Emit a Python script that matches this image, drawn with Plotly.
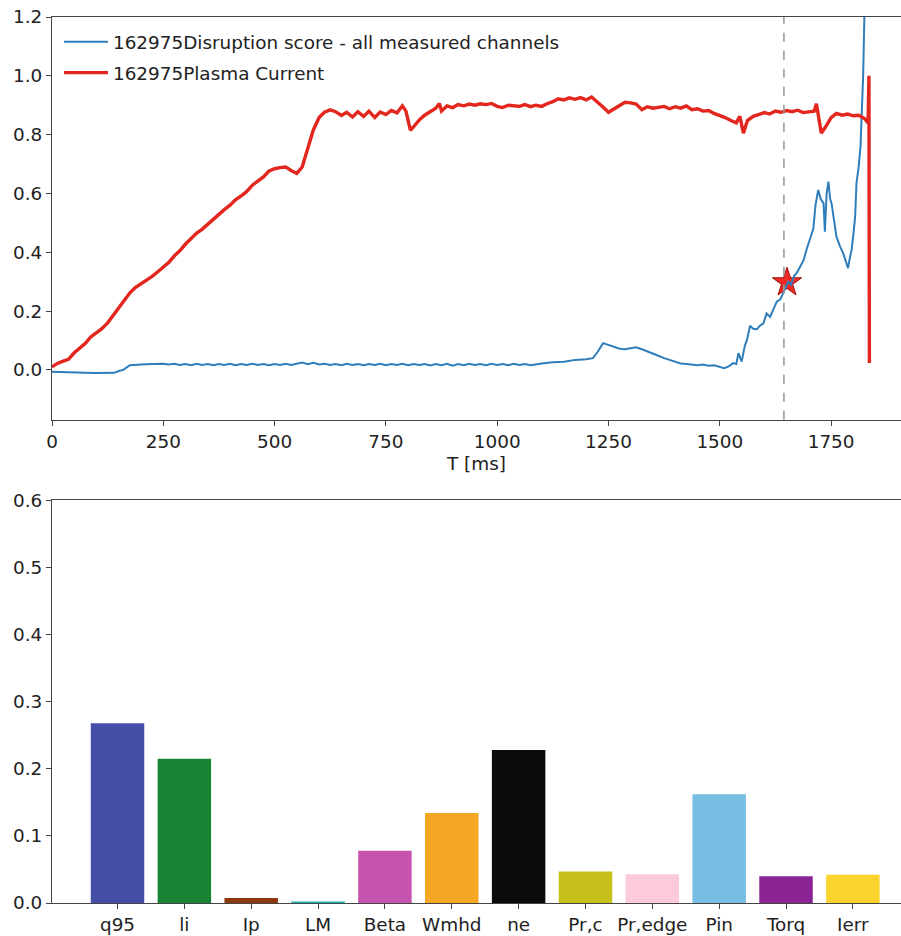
import plotly.graph_objects as go
from plotly.subplots import make_subplots

# ---------------- data ----------------
ip_t = [0, 12, 25, 37, 50, 62, 75, 87, 100, 112, 125, 137, 150, 162, 175, 187, 200, 212, 225, 237,
        250, 262, 275, 287, 300, 312, 325, 337, 350, 362, 375, 387, 400, 412, 425, 437, 450, 462, 475, 487,
        500, 512, 525, 537, 550, 562, 575, 587, 600, 612, 625, 637, 650, 662, 675, 687, 700, 712, 725, 737,
        750, 762, 775, 787, 795, 805, 812, 825, 837, 850, 862, 870, 875, 887, 900, 912, 925, 937, 950, 962,
        975, 987, 1000, 1012, 1025, 1037, 1050, 1062, 1075, 1087, 1100, 1112, 1125, 1137, 1150, 1162, 1175,
        1187, 1200, 1212, 1225, 1237, 1250, 1262, 1275, 1287, 1300, 1312, 1325, 1337, 1350, 1362, 1375,
        1387, 1400, 1412, 1425, 1437, 1450, 1462, 1475, 1487, 1500, 1512, 1525, 1537, 1545, 1553, 1562,
        1575, 1587, 1600, 1612, 1625, 1637, 1650, 1662, 1675, 1687, 1700, 1712, 1717, 1722, 1728, 1737,
        1750, 1762, 1775, 1787, 1800, 1812, 1825, 1833, 1835, 1836]
ip_v = [0.010, 0.022, 0.030, 0.036, 0.058, 0.072, 0.090, 0.112, 0.125, 0.140, 0.160, 0.185, 0.210, 0.238,
        0.262, 0.280, 0.292, 0.305, 0.318, 0.333, 0.350, 0.365, 0.388, 0.405, 0.428, 0.445, 0.465, 0.478,
        0.496, 0.513, 0.530, 0.545, 0.560, 0.578, 0.592, 0.606, 0.628, 0.640, 0.656, 0.676, 0.684, 0.688,
        0.690, 0.678, 0.668, 0.690, 0.760, 0.816, 0.858, 0.876, 0.884, 0.878, 0.865, 0.876, 0.860, 0.878,
        0.862, 0.880, 0.858, 0.877, 0.868, 0.882, 0.874, 0.898, 0.880, 0.815, 0.826, 0.850, 0.866, 0.878,
        0.890, 0.906, 0.880, 0.898, 0.892, 0.902, 0.898, 0.904, 0.900, 0.905, 0.902, 0.906, 0.896, 0.892,
        0.900, 0.898, 0.896, 0.902, 0.895, 0.900, 0.896, 0.905, 0.912, 0.922, 0.918, 0.925, 0.920, 0.926,
        0.918, 0.928, 0.912, 0.895, 0.876, 0.886, 0.898, 0.910, 0.908, 0.904, 0.885, 0.895, 0.890, 0.894,
        0.896, 0.888, 0.895, 0.890, 0.898, 0.885, 0.888, 0.880, 0.882, 0.872, 0.865, 0.858, 0.848, 0.840,
        0.862, 0.805, 0.848, 0.862, 0.868, 0.875, 0.870, 0.880, 0.876, 0.882, 0.878, 0.883, 0.875, 0.878,
        0.880, 0.905, 0.850, 0.805, 0.825, 0.858, 0.872, 0.866, 0.870, 0.864, 0.866, 0.855, 0.840, 1.000,
        0.023]

ds_t = [0, 25, 50, 75, 100, 125, 140, 150, 160, 175, 187, 200, 225, 250,
        262, 275, 287, 300, 312, 325, 337, 350, 362, 375, 387, 400, 412, 425, 437, 450, 462, 475, 487,
        500, 512, 525, 537, 550, 562, 575, 587, 600, 612, 625, 637, 650, 662, 675, 687, 700, 712, 725,
        737, 750, 762, 775, 787, 800, 812, 825, 837, 850, 862, 875, 887, 900, 912, 925, 937, 950, 962,
        975, 987, 1000, 1012, 1025, 1037, 1050, 1062, 1075, 1087,
        1100, 1125, 1150, 1175, 1200, 1215, 1225, 1238, 1250, 1262, 1275, 1287, 1300, 1312, 1325, 1337,
        1350, 1362, 1375, 1387, 1400, 1412, 1425, 1437, 1450, 1462, 1475, 1487, 1500, 1510, 1520, 1530,
        1537, 1542, 1549, 1556, 1561, 1568, 1575, 1583, 1590, 1598, 1605, 1613, 1620, 1628, 1636, 1643,
        1648, 1654, 1660, 1667, 1673, 1680, 1688, 1695, 1702, 1710, 1715, 1721, 1727, 1733, 1736, 1740,
        1744, 1748, 1751, 1756, 1762, 1770, 1777, 1783, 1788, 1792, 1796, 1800, 1804, 1807, 1812, 1816,
        1819, 1822, 1826]
ds_v = [-0.006, -0.008, -0.010, -0.010, -0.011, -0.011, -0.010, -0.004, 0.000, 0.016, 0.016, 0.018,
        0.020, 0.021,
        0.018, 0.021, 0.017, 0.020, 0.016, 0.021, 0.017, 0.020, 0.016, 0.020, 0.017, 0.021, 0.016, 0.020,
        0.017, 0.021, 0.017, 0.020, 0.016, 0.020, 0.017, 0.021, 0.017, 0.020, 0.025, 0.019, 0.024, 0.018,
        0.021, 0.017, 0.020, 0.016, 0.021, 0.017, 0.020, 0.016, 0.020, 0.017, 0.021, 0.016, 0.020, 0.017,
        0.021, 0.016, 0.020, 0.017, 0.020, 0.015, 0.020, 0.016, 0.021, 0.014, 0.020, 0.016, 0.021, 0.017,
        0.020, 0.016, 0.021, 0.017, 0.020, 0.016, 0.021, 0.017, 0.020, 0.016, 0.020,
        0.022, 0.026, 0.028, 0.034, 0.036, 0.040, 0.060, 0.091, 0.084, 0.078, 0.072, 0.070, 0.074, 0.077,
        0.070, 0.062, 0.055, 0.048, 0.040, 0.034, 0.028, 0.022, 0.020, 0.018, 0.016, 0.018, 0.014, 0.016,
        0.010, 0.006, 0.012, 0.023, 0.020, 0.057, 0.028, 0.080, 0.102, 0.150, 0.140, 0.138, 0.150, 0.158,
        0.192, 0.180, 0.205, 0.232, 0.240, 0.262, 0.280, 0.300, 0.290, 0.320, 0.330, 0.350, 0.372, 0.410,
        0.440, 0.480, 0.560, 0.612, 0.580, 0.567, 0.470, 0.600, 0.640, 0.580, 0.567, 0.520, 0.453, 0.420,
        0.397, 0.370, 0.346, 0.380, 0.408, 0.460, 0.521, 0.635, 0.691, 0.760, 0.860, 1.000, 1.300]

alarm_time = [1644]
alarm_star_t = [1651]
alarm_star_v = [0.297]

shot = "162975"
series_names = [shot + "Disruption score - all measured channels", shot + "Plasma Current"]

feature_names = ["q95", "li", "Ip", "LM", "Beta", "Wmhd", "ne", "Pr,c", "Pr,edge", "Pin", "Torq", "Ierr"]
feature_values = [0.268, 0.215, 0.0075, 0.002, 0.078, 0.134, 0.228, 0.047, 0.043, 0.162, 0.040, 0.042]
feature_colors = ["#464ea8", "#188433", "#8b3a10", "#1fb3b0", "#c653ad", "#f5a623", "#0b0b0b",
                  "#c7c01a", "#fdc9dc", "#76bee3", "#8a2495", "#fbd32d"]

top_yticks = [0.0, 0.2, 0.4, 0.6, 0.8, 1.0, 1.2]
top_xticks = [0, 250, 500, 750, 1000, 1250, 1500, 1750]
bot_yticks = [0.0, 0.1, 0.2, 0.3, 0.4, 0.5, 0.6]

# ---------------- figure ----------------
FONT = "DejaVu Sans"
FS = 18.4
AX = "#444444"
TXT = "#222222"

fig = make_subplots(rows=2, cols=1, vertical_spacing=0.0)

fig.add_trace(go.Scatter(x=alarm_star_t, y=alarm_star_v, mode="markers", showlegend=False,
                         marker=dict(symbol="star", size=22, color="#ee2a22",
                                     line=dict(color="#a01010", width=1))), row=1, col=1)
fig.add_trace(go.Scatter(x=ds_t, y=ds_v, mode="lines", name=series_names[0],
                         line=dict(color="#2f7ebc", width=2), legendgroup="a"), row=1, col=1)
fig.add_trace(go.Scatter(x=ip_t, y=ip_v, mode="lines", name=series_names[1],
                         line=dict(color="#e3261e", width=3.4), legendgroup="b"), row=1, col=1)
fig.add_trace(go.Scatter(x=[alarm_time[0], alarm_time[0]], y=[-0.17, 1.2], mode="lines",
                         showlegend=False, line=dict(color="#9a9a9a", width=1.6, dash="dash")),
              row=1, col=1)

fig.add_trace(go.Bar(x=feature_names, y=feature_values, marker=dict(color=feature_colors, line=dict(width=0)),
                     width=0.8, showlegend=False), row=2, col=1)

axis_common = dict(showgrid=False, zeroline=False, showline=True, linecolor=AX, linewidth=1.2,
                   ticks="outside", ticklen=5, tickcolor=AX, tickwidth=1.2, automargin=False,
                   tickfont=dict(family=FONT, size=FS, color=TXT))

fig.update_xaxes(**axis_common, row=1, col=1, range=[0, 1907], tickvals=top_xticks, mirror=True,
                 title=dict(text="T [ms]", font=dict(family=FONT, size=FS, color=TXT), standoff=6))
fig.update_yaxes(**axis_common, row=1, col=1, range=[-0.17, 1.2], tickvals=top_yticks, tickformat=".1f",
                 domain=[0.5453, 1.0])
fig.update_xaxes(**axis_common, row=2, col=1, range=[-0.98, 11.72], mirror=True, type="category")
fig.update_yaxes(**axis_common, row=2, col=1, range=[0, 0.6], tickvals=bot_yticks, tickformat=".1f",
                 domain=[0.0, 0.4543])

fig.update_layout(
    width=901, height=936,
    margin=dict(l=52, r=0, t=17, b=33, autoexpand=False),
    paper_bgcolor="white", plot_bgcolor="white",
    font=dict(family=FONT, size=FS, color=TXT),
    legend=dict(x=0.0082, y=0.993, xanchor="left", yanchor="top", xref="paper", yref="paper",
                bgcolor="rgba(255,255,255,0)", borderwidth=0, tracegroupgap=4,
                font=dict(family=FONT, size=FS, color=TXT), itemwidth=44),
    bargap=0.2,
)

fig.write_html("out.html", config={"displayModeBar": False},
               post_script="document.body.style.margin='0px';")
